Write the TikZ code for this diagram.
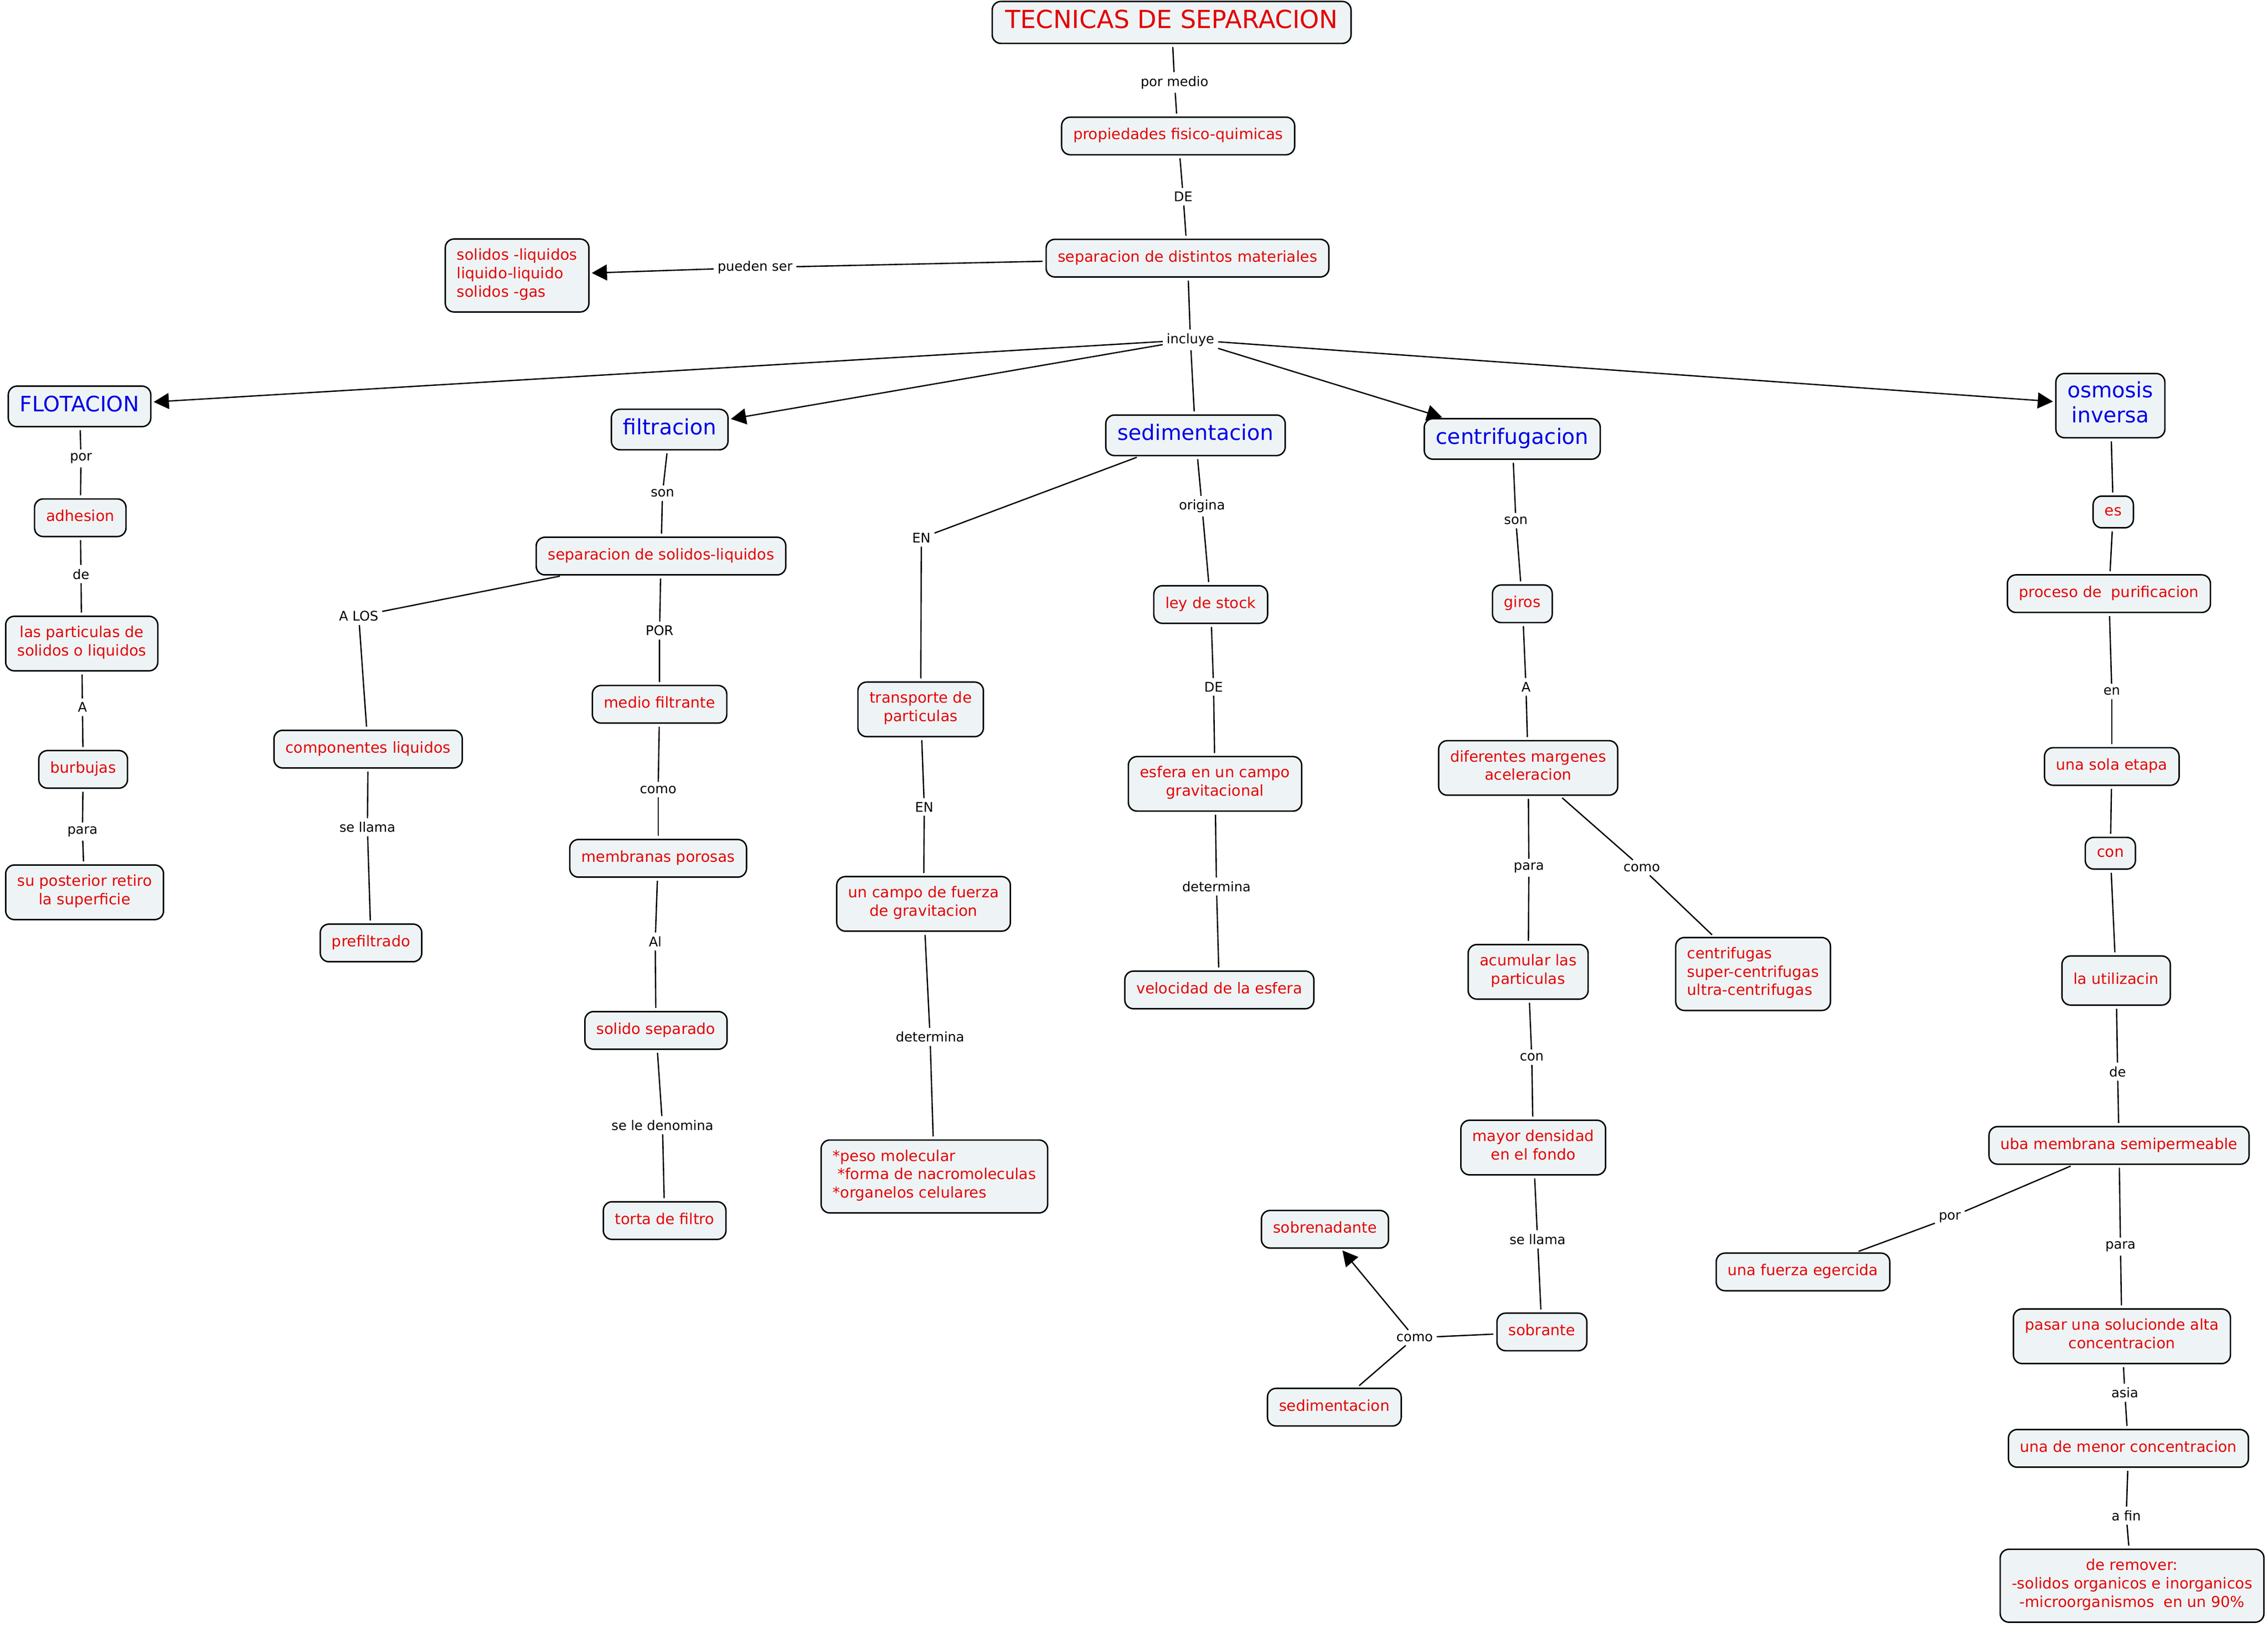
\documentclass[tikz,border=0pt]{standalone}
\usepackage{fontspec}
\setmainfont{DejaVu Sans}
\usetikzlibrary{arrows.meta}
\definecolor{cred}{RGB}{228,0,0}
\definecolor{cblue}{RGB}{0,0,230}
\definecolor{cfill}{RGB}{238,244,246}
\newcommand\fRed{\fontsize{10.4}{12.7}\selectfont}
\newcommand\fBlu{\fontsize{14.7}{17.4}\selectfont}
\newcommand\fTit{\fontsize{17.2}{20.6}\selectfont}
\newcommand\fLab{\fontsize{9.2}{11}\selectfont}
\newcommand\lnk[3]{\draw[conn,shorten <=2pt] (#1) -- (#2); \draw[conn,shorten >=2pt] (#2) -- (#3);}
\newcommand\lnkarr[3]{\draw[conn,shorten <=2pt] (#1) -- (#2); \draw[conn,arr,shorten >=1.5pt] (#2) -- (#3);}
\begin{document}
\begin{tikzpicture}[x=1pt,y=-1pt,
 box/.style={draw=black,line width=1pt,fill=cfill,rounded corners=6pt,text=cred,font=\fRed,inner xsep=8pt,inner ysep=6.65pt,align=center,execute at begin node=\strut,execute at end node=\strut},
 bbox/.style={box,text=cblue,font=\fBlu,inner ysep=5.3pt},
 tbox/.style={box,font=\fTit,inner ysep=4.2pt,inner xsep=9pt},
 sbox/.style={box,inner ysep=4.6pt},
 lab/.style={font=\fLab,inner sep=2.5pt,text=black},
 conn/.style={line width=0.9pt},
 arr/.style={-{Triangle[length=10.5pt,width=11pt]}}]
\useasboundingbox (0,0) rectangle (1568,1125.4);
% concepts
\node[tbox] (t) at (810,15.5) {TECNICAS DE SEPARACION};
\node[box] (pf) at (814.5,94) {propiedades fisico-quimicas};
\node[box] (sdm) at (821,178.5) {separacion de distintos materiales};
\node[box,align=left] (sl) at (357.5,190.5) {solidos -liquidos\\liquido-liquido\\solidos -gas};
\node[bbox] (flo) at (55,281) {FLOTACION};
\node[bbox] (fil) at (463,297) {filtracion};
\node[bbox] (sed) at (826.5,301) {sedimentacion};
\node[bbox] (cen) at (1045.5,303.5) {centrifugacion};
\node[bbox] (osm) at (1459,280.5) {osmosis\\inversa};
% flotacion
\node[box] (adh) at (55.5,358) {adhesion};
\node[box] (lpd) at (56.5,445) {las particulas de\\solidos o liquidos};
\node[box] (bur) at (57.5,532) {burbujas};
\node[box] (spr) at (58.5,617) {su posterior retiro\\la superficie};
% filtracion
\node[box] (ssl) at (457,384.5) {separacion de solidos-liquidos};
\node[box] (cl) at (254.5,518) {componentes liquidos};
\node[box] (pre) at (256.5,652) {prefiltrado};
\node[box] (mf) at (456,487) {medio filtrante};
\node[box] (mp) at (455,593.5) {membranas porosas};
\node[box] (ss) at (453.5,712.5) {solido separado};
\node[box] (tf) at (459.5,844) {torta de filtro};
% sedimentacion
\node[box] (tp) at (636.5,490.5) {transporte de\\particulas};
\node[box] (ucf) at (638.5,625) {un campo de fuerza\\de gravitacion};
\node[box,align=left] (pm) at (646,813.5) {*peso molecular\\~*forma de nacromoleculas\\*organelos celulares};
\node[box] (lds) at (837,418) {ley de stock};
\node[box] (esf) at (840,542) {esfera en un campo\\gravitacional};
\node[box] (vel) at (843,684.5) {velocidad de la esfera};
% centrifugacion
\node[box] (gir) at (1052.5,417.5) {giros};
\node[box] (dif) at (1056.5,531) {diferentes margenes\\aceleracion};
\node[box] (acu) at (1056.5,672) {acumular las\\particulas};
\node[box] (may) at (1060,793.5) {mayor densidad\\en el fondo};
\node[box] (sob) at (1066,921) {sobrante};
\node[box] (sbn) at (916,850) {sobrenadante};
\node[box] (sdi) at (922.5,973) {sedimentacion};
\node[box,align=left] (cfg) at (1212,673.5) {centrifugas\\super-centrifugas\\ultra-centrifugas};
% osmosis
\node[sbox] (es) at (1461,354) {es};
\node[box] (ppu) at (1458,410.5) {proceso de~ purificacion};
\node[box] (use) at (1460,530) {una sola etapa};
\node[sbox] (con) at (1459,590) {con};
\node[box,minimum height=34pt] (lut) at (1463,678) {la utilizacin};
\node[box] (uba) at (1465,792) {uba membrana semipermeable};
\node[box] (ufe) at (1246.5,879.5) {una fuerza egercida};
\node[box] (pas) at (1467,924) {pasar una solucionde alta\\concentracion};
\node[box] (umc) at (1471.5,1001.5) {una de menor concentracion};
\node[box] (drm) at (1474,1096.5) {de remover:\\-solidos organicos e inorganicos\\-microorganismos~ en un 90\%};
% labels
\node[lab] (l1) at (812,57) {por medio};
\node[lab] (l2) at (818,136) {DE};
\node[lab] (l3) at (522,185) {pueden ser};
\node[lab] (l4) at (823,235) {incluye};
\node[lab] (l5) at (56,317) {por};
\node[lab] (l6) at (56,397) {de};
\node[lab] (l7) at (57,489) {A};
\node[lab] (l8) at (57,575) {para};
\node[lab] (l9) at (458,341) {son};
\node[lab] (l10) at (248,426) {A LOS};
\node[lab] (l11) at (254,572) {se llama};
\node[lab] (l12) at (456,436) {POR};
\node[lab] (l13) at (455,546) {como};
\node[lab] (l14) at (453,651) {Al};
\node[lab] (l15) at (458,778) {se le denomina};
\node[lab] (l16) at (637,372) {EN};
\node[lab] (l17) at (639,558) {EN};
\node[lab] (l18) at (643,717) {determina};
\node[lab] (l19) at (831,350) {origina};
\node[lab] (l20) at (839,475) {DE};
\node[lab] (l21) at (841,613) {determina};
\node[lab] (l22) at (1048,360) {son};
\node[lab] (l23) at (1055,475) {A};
\node[lab] (l24) at (1057,600) {para};
\node[lab] (l25) at (1135,600) {como};
\node[lab] (l26) at (1059,731) {con};
\node[lab] (l27) at (1063,857) {se llama};
\node[lab] (l28) at (978,925) {como};
\node[lab] (l29) at (1460,478) {en};
\node[lab] (l30) at (1464,741) {de};
\node[lab] (l31) at (1348,842) {por};
\node[lab] (l32) at (1466,862) {para};
\node[lab] (l33) at (1469,963) {asia};
\node[lab] (l34) at (1470,1048) {a fin};
% connectors
\lnk{t}{l1}{pf}
\lnk{pf}{l2}{sdm}
\lnkarr{sdm}{l3}{sl}
\draw[conn,shorten <=2pt] (sdm) -- (l4);
\draw[conn,arr,shorten >=1.5pt] (l4) -- (flo);
\draw[conn,arr,shorten >=1.5pt] (l4) -- (fil);
\draw[conn,shorten >=2pt] (l4) -- (sed);
\draw[conn,arr,shorten >=1.5pt] (l4) -- (cen);
\draw[conn,arr,shorten >=1.5pt] (l4) -- (osm);
\lnk{flo}{l5}{adh}
\lnk{adh}{l6}{lpd}
\lnk{lpd}{l7}{bur}
\lnk{bur}{l8}{spr}
\lnk{fil}{l9}{ssl}
\lnk{ssl}{l10}{cl}
\lnk{cl}{l11}{pre}
\lnk{ssl}{l12}{mf}
\lnk{mf}{l13}{mp}
\lnk{mp}{l14}{ss}
\lnk{ss}{l15}{tf}
\lnk{sed}{l16}{tp}
\lnk{tp}{l17}{ucf}
\lnk{ucf}{l18}{pm}
\lnk{sed}{l19}{lds}
\lnk{lds}{l20}{esf}
\lnk{esf}{l21}{vel}
\lnk{cen}{l22}{gir}
\lnk{gir}{l23}{dif}
\lnk{dif}{l24}{acu}
\lnk{dif}{l25}{cfg}
\lnk{acu}{l26}{may}
\lnk{may}{l27}{sob}
\lnkarr{sob}{l28}{sbn}
\draw[conn,shorten >=2pt] (l28) -- (sdi);
\draw[conn,shorten <=2pt,shorten >=2pt] (osm) -- (es);
\draw[conn,shorten <=2pt,shorten >=2pt] (es) -- (ppu);
\lnk{ppu}{l29}{use}
\draw[conn,shorten <=2pt,shorten >=2pt] (use) -- (con);
\draw[conn,shorten <=2pt,shorten >=2pt] (con) -- (lut);
\lnk{lut}{l30}{uba}
\lnk{uba}{l31}{ufe}
\lnk{uba}{l32}{pas}
\lnk{pas}{l33}{umc}
\lnk{umc}{l34}{drm}
\end{tikzpicture}
\end{document}
